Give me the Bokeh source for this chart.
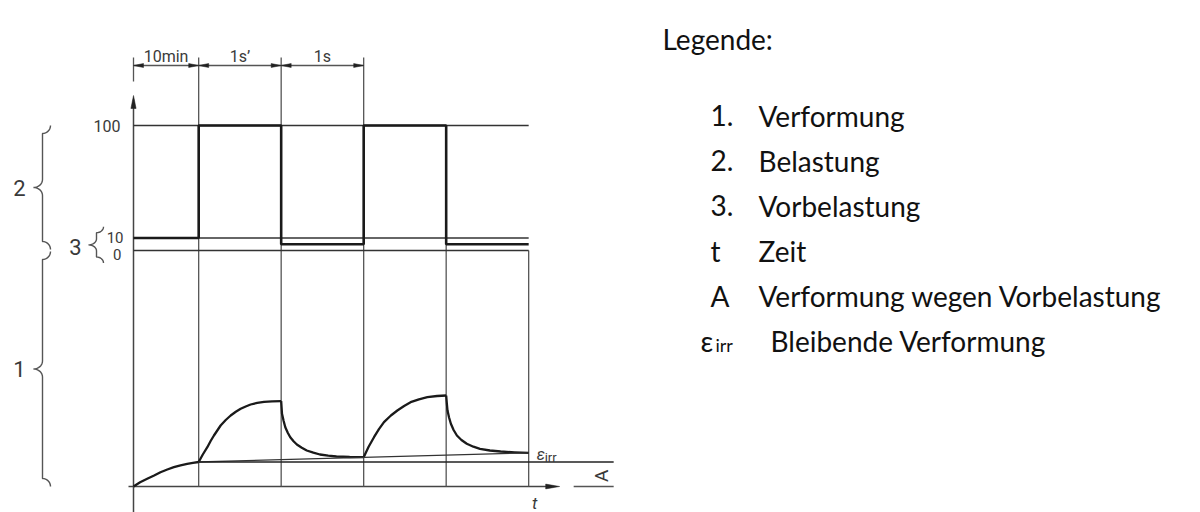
import math
from bokeh.plotting import figure
from bokeh.models import Range1d, Label
from bokeh.embed import file_html
from bokeh.resources import INLINE

# ---------------------------------------------------------------- data
# time axis: boundaries of the phases (10 min preload, then 1 s' load, 1 s relief, repeated)
PHASE_T = [0.0, 0.79, 1.79, 2.79, 3.79, 4.79]
DIM_LABELS = ["10min", "1s\u2019", "1s"]

# load levels in % of the test load
LOAD_TICKS = [100, 10, 0]
LOAD_TICK_LABELS = ["100", "10", "0"]
LOAD_PER_PHASE = [10, 100, 5, 100, 5]      # preload, load, relief, load, relief

# deformation readings for each phase
creep_t = [0.00, 0.08, 0.166, 0.25, 0.327, 0.41, 0.489, 0.57, 0.651, 0.72, 0.79]
creep_d = [0.00, 0.42, 0.77, 1.10, 1.43, 1.70, 1.93, 2.12, 2.27, 2.37, 2.45]

load1_t = [0.79, 0.84, 0.895, 0.935, 0.975, 1.056, 1.118, 1.178, 1.24, 1.299, 1.36, 1.42, 1.50, 1.582, 1.68, 1.79]
load1_d = [2.45, 3.20, 3.93, 4.55, 5.10, 6.10, 6.65, 7.10, 7.47, 7.77, 8.00, 8.20, 8.36, 8.47, 8.52, 8.53]

relief1_t = [1.79, 1.795, 1.80, 1.82, 1.84, 1.87, 1.90, 1.94, 1.98, 2.04, 2.10, 2.18, 2.26, 2.36, 2.46, 2.62, 2.79]
relief1_d = [8.53, 7.90, 7.27, 6.55, 5.93, 5.38, 4.93, 4.53, 4.20, 3.88, 3.60, 3.38, 3.20, 3.08, 3.00, 2.95, 2.93]

load2_t = [2.79, 2.85, 2.915, 2.975, 3.036, 3.12, 3.198, 3.28, 3.359, 3.46, 3.562, 3.68, 3.79]
load2_d = [2.93, 3.98, 4.93, 5.73, 6.43, 7.10, 7.60, 8.05, 8.43, 8.72, 8.93, 9.05, 9.10]

relief2_t = [3.79, 3.798, 3.806, 3.825, 3.847, 3.88, 3.92, 3.975, 4.04, 4.12, 4.20, 4.32, 4.45, 4.62, 4.79]
relief2_d = [9.10, 8.30, 7.60, 6.90, 6.27, 5.65, 5.10, 4.65, 4.27, 3.98, 3.77, 3.60, 3.50, 3.42, 3.37]

A_LEVEL = 2.45     # deformation reached under the preload
EPS_IRR = 3.37     # permanent deformation at the end

LEGEND_TITLE = "Legende:"
LEGEND_KEYS = ["1.", "2.", "3.", "t", "A"]
LEGEND_TEXTS = ["Verformung", "Belastung", "Vorbelastung", "Zeit",
                "Verformung wegen Vorbelastung"]
LEGEND_EPS_TEXT = "Bleibende Verformung"

# ---------------------------------------------------------------- scales
W, H = 1200, 512
PX_T = 82.5          # pixels per time unit
PX_D = 10.0          # pixels per deformation unit
ORIGIN_X, ORIGIN_Y = 133, 486     # where the axes cross (from the top-left)
LOAD_ZERO = (ORIGIN_Y - 250) / PX_D   # deformation-axis position of load 0
LOAD_SCALE = 0.125                    # deformation units per % load


def dx(px):
    return px / PX_T


def dy(px):
    return px / PX_D


def load_y(v):
    return LOAD_ZERO + v * LOAD_SCALE


x0 = -ORIGIN_X / PX_T
y0 = -(H - ORIGIN_Y) / PX_D
p = figure(width=W, height=H, output_backend="svg", toolbar_location=None,
           x_range=Range1d(x0, x0 + W / PX_T), y_range=Range1d(y0, y0 + H / PX_D),
           x_axis_location=None, y_axis_location=None, min_border=0,
           outline_line_color=None)
p.grid.visible = False
p.background_fill_color = "white"
p.border_fill_color = "white"

CHART_FONT = "Roboto"
LEGEND_FONT = "Lato"
TXT = "#3a3a3a"
THIN = dict(line_color="#555555", line_width=1.3)
REF = dict(line_color="#333333", line_width=1.4)
INK = "#1a1a1a"


def head(tip_x, tip_y, direction, length=9, half=2.2):
    """Filled arrow head, sized in pixels; direction is 'l', 'r' or 'u'."""
    if direction == "r":
        xs = [tip_x, tip_x - dx(length), tip_x - dx(length)]
        ys = [tip_y, tip_y + dy(half), tip_y - dy(half)]
    elif direction == "l":
        xs = [tip_x, tip_x + dx(length), tip_x + dx(length)]
        ys = [tip_y, tip_y + dy(half), tip_y - dy(half)]
    else:
        xs = [tip_x, tip_x - dx(half), tip_x + dx(half)]
        ys = [tip_y, tip_y - dy(length), tip_y - dy(length)]
    return xs, ys


def chart_label(x, y, text, size, align="center", baseline="middle", **kw):
    p.add_layout(Label(x=x, y=y, text=text, text_align=align, text_baseline=baseline,
                       text_font=CHART_FONT, text_font_size=size, text_color=TXT, **kw))


heads_x, heads_y = [], []

# ---------------------------------------------------------------- axes
top_ext = dy(ORIGIN_Y - 57)
dim_y = dy(ORIGIN_Y - 65)
axis_tip = dy(ORIGIN_Y - 95)
t_tip = PHASE_T[-1] + dx(31)
right_end = PHASE_T[-1] + dx(85)

p.line([0, 0], [y0, axis_tip - dy(4)], line_color="#444444", line_width=1.5)
hx, hy = head(0, axis_tip, "u", length=13, half=2.6)
heads_x.append(hx); heads_y.append(hy)
p.line([0, 0], [top_ext, dim_y - dy(16)], **THIN)

p.line([-dx(5), t_tip - dx(6)], [0, 0], line_color="#444444", line_width=1.5)
hx, hy = head(t_tip, 0, "r", length=14, half=2.4)
heads_x.append(hx); heads_y.append(hy)

# phase boundaries
for t in PHASE_T[1:4]:
    p.line([t, t], [top_ext, 0], **THIN)
p.line([PHASE_T[4], PHASE_T[4]], [load_y(100), 0], **THIN)
p.line([PHASE_T[5], PHASE_T[5]], [load_y(0), 0], **THIN)

# dimension line with arrows and labels
p.line([PHASE_T[0], PHASE_T[3]], [dim_y, dim_y], **THIN)
for i, lab in enumerate(DIM_LABELS):
    a, b = PHASE_T[i], PHASE_T[i + 1]
    for tip, d in ((a, "l"), (b, "r")):
        hx, hy = head(tip, dim_y, d, length=10, half=2.0)
        heads_x.append(hx); heads_y.append(hy)
    chart_label((a + b) / 2, dim_y + dy(9), lab, "16px", baseline="alphabetic")

# ---------------------------------------------------------------- load diagram
for v in LOAD_TICKS:
    p.line([PHASE_T[0], PHASE_T[-1]], [load_y(v), load_y(v)], **REF)

step_y = [load_y(v) for v in LOAD_PER_PHASE] + [load_y(LOAD_PER_PHASE[-1])]
p.step(PHASE_T, step_y, mode="after", line_color=INK, line_width=2.6)

tick_pos = {100: (dx(-13), 0), 10: (dx(-10), dy(1)), 0: (dx(-12), dy(-4))}
tick_size = {100: "16px", 10: "15px", 0: "15px"}
for v, lab in zip(LOAD_TICKS, LOAD_TICK_LABELS):
    ox, oy = tick_pos[v]
    chart_label(ox, load_y(v) + oy, lab, tick_size[v], align="right")

# ---------------------------------------------------------------- deformation curve
for ts, ds in ((creep_t, creep_d), (load1_t, load1_d), (relief1_t, relief1_d),
               (load2_t, load2_d), (relief2_t, relief2_d)):
    p.line(ts, ds, line_color=INK, line_width=2.3, line_join="round")

p.line([PHASE_T[1], PHASE_T[-1]], [A_LEVEL, EPS_IRR], line_color="#333333", line_width=1.3)
p.line([PHASE_T[1], right_end], [A_LEVEL, A_LEVEL], line_color="#222222", line_width=1.5)
p.line([PHASE_T[-1] + dx(45), right_end], [0, 0], line_color="#555555", line_width=1.6)

p.patches(heads_x, heads_y, fill_color="#222222", line_color="#222222", line_width=0.5)

chart_label(PHASE_T[-1] + dx(8), EPS_IRR - dy(2), "\u03b5", "16px", align="left",
            baseline="alphabetic", text_font_style="italic")
chart_label(PHASE_T[-1] + dx(16), EPS_IRR - dy(5), "irr", "13px", align="left",
            baseline="alphabetic")
chart_label(PHASE_T[-1] + dx(6), -dy(16), "t", "17px", text_font_style="italic")
chart_label(PHASE_T[-1] + dx(73), A_LEVEL / 2 - dy(1.5), "A", "19px", angle=math.pi / 2)

# ---------------------------------------------------------------- braces


def brace(x_spine, ya, yb, cusp, tip, r):
    """Curly brace opening to the right, spanning ya..yb (data), widths in pixels."""
    ym = (ya + yb) / 2
    pts_x, pts_y = [], []
    n = 8
    for k in range(n + 1):
        a = math.pi / 2 * k / n
        pts_x.append(x_spine + dx(tip) * math.cos(a))
        pts_y.append(yb - dy(r) * math.sin(a))
    for k in range(n + 1):
        a = math.pi / 2 * k / n
        pts_x.append(x_spine - dx(cusp) * (1 - math.cos(a)))
        pts_y.append(ym + dy(r) * (1 - math.sin(a)))
    for k in range(n + 1):
        a = math.pi / 2 * k / n
        pts_x.append(x_spine - dx(cusp) * (1 - math.sin(a)))
        pts_y.append(ym - dy(r) * (1 - math.cos(a)))
    for k in range(n + 1):
        a = math.pi / 2 * k / n
        pts_x.append(x_spine + dx(tip) * math.sin(a))
        pts_y.append(ya + dy(r) * math.cos(a))
    return pts_x, pts_y


BRACE_STYLE = dict(line_color="#555555", line_width=1.4)
bx = dx(42 - ORIGIN_X)
for ya, yb, lab in ((load_y(0) + dy(1), load_y(100), "2"), (0, load_y(0) - dy(1), "1")):
    xs, ys = brace(bx, ya, yb, cusp=9, tip=8, r=8)
    p.line(xs, ys, **BRACE_STYLE)
    chart_label(dx(19 - ORIGIN_X), (ya + yb) / 2, lab, "22px")

xs, ys = brace(dx(96 - ORIGIN_X), load_y(-10), load_y(19), cusp=8, tip=7, r=6)
p.line(xs, ys, **BRACE_STYLE)
chart_label(dx(75 - ORIGIN_X), load_y(2.5), "3", "22px")

# ---------------------------------------------------------------- legend
LEG_SIZE = "28px"
leg = dict(x_units="screen", y_units="screen", text_font=LEGEND_FONT,
           text_font_size=LEG_SIZE, text_color="#111111", text_baseline="alphabetic")
p.add_layout(Label(x=662, y=H - 38, text=LEGEND_TITLE, **leg))
baselines = [115, 160, 205, 250, 295]
for base, key, txt in zip(baselines, LEGEND_KEYS, LEGEND_TEXTS):
    p.add_layout(Label(x=710, y=H - base, text=key, **leg))
    p.add_layout(Label(x=758, y=H - base, text=txt, **leg))
p.add_layout(Label(x=700, y=H - 340, text="\u03b5", **leg))
p.add_layout(Label(x=715, y=H - 344, text="irr", x_units="screen", y_units="screen",
                   text_font=LEGEND_FONT, text_font_size="18px", text_color="#111111",
                   text_baseline="alphabetic"))
p.add_layout(Label(x=770, y=H - 340, text=LEGEND_EPS_TEXT, **leg))

open("out.html", "w").write(file_html(p, INLINE))
